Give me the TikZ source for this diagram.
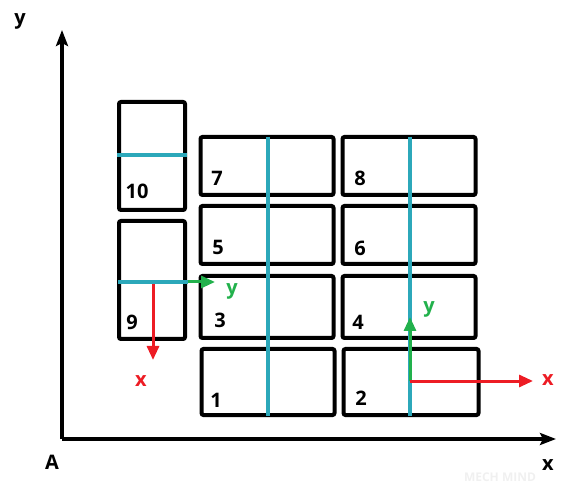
\documentclass[tikz,border=0pt]{standalone}
\usepackage{fontspec}
\setmainfont{Open Sans}
\usetikzlibrary{arrows.meta}
\definecolor{tealc}{RGB}{44,168,186}
\definecolor{redc}{RGB}{237,28,36}
\definecolor{greenc}{RGB}{34,177,76}
\tikzset{
  box/.style={draw=black, line width=4pt, rounded corners=2pt, fill=none, inner sep=0pt},
  num/.style={font=\fontsize{20}{23}\selectfont\bfseries, inner sep=0pt, anchor=base},
  axlab/.style={font=\fontsize{20}{23}\selectfont\bfseries, inner sep=0pt},
  teal/.style={draw=tealc, line width=3.5pt},
  redarr/.style={draw=redc, line width=3pt, -{Triangle[length=14pt,width=12pt]}},
  greenarr/.style={draw=greenc, line width=3pt, -{Triangle[length=14pt,width=12pt]}},
  axis/.style={draw=black, line width=3.5pt, -{Stealth[length=16pt,width=12pt,inset=3pt]}}
}
\begin{document}
\begin{tikzpicture}[x=1pt,y=-1pt]
\useasboundingbox (0,0) rectangle (582,484);
% axes
\coordinate (O) at (62,439);
\coordinate (Ytip) at (62,30);
\coordinate (Xtip) at (556,439);
\draw[axis] (O) -- (Ytip);
\draw[axis] (O) -- (Xtip);
\node[axlab] (ylab) at (20,21) {y};
\node[axlab] (alab) at (52,462) {A};
\node[axlab] (xlab) at (548,465) {x};
\node[font=\fontsize{12}{14}\selectfont\bfseries, text=black!6] (wm) at (500,477) {MECH MIND};
% boxes
\node[box, minimum width=66pt, minimum height=108pt] (b10) at (152,156) {};
\node[box, minimum width=66pt, minimum height=118pt] (b9) at (152,280) {};
\node[box, minimum width=133pt, minimum height=58pt] (b7) at (267,166) {};
\node[box, minimum width=133pt, minimum height=58pt] (b8) at (409,166) {};
\node[box, minimum width=133pt, minimum height=58pt] (b5) at (267,235) {};
\node[box, minimum width=133pt, minimum height=58pt] (b6) at (409,235) {};
\node[box, minimum width=133pt, minimum height=62pt] (b3) at (267,307) {};
\node[box, minimum width=133pt, minimum height=62pt] (b4) at (409,307) {};
\node[box, minimum width=133pt, minimum height=66pt] (b1) at (268,382) {};
\node[box, minimum width=135pt, minimum height=66pt] (b2) at (411,382) {};
% numbers
\node[num] (n10) at (137,199) {10};
\node[num] (n7) at (217,186) {7};
\node[num] (n8) at (360,186) {8};
\node[num] (n5) at (218,255) {5};
\node[num] (n6) at (360,256) {6};
\node[num] (n9) at (132,330) {9};
\node[num] (n3) at (220,328) {3};
\node[num] (n4) at (358,330) {4};
\node[num] (n1) at (216,407) {1};
\node[num] (n2) at (361,406) {2};
% teal lines
\draw[teal] (b10.west |- 0,155) -- (b10.east |- 0,155);
\coordinate (t1a) at (268,137);
\coordinate (t1b) at (268,416);
\draw[teal] (t1a) -- (t1b);
\coordinate (t2a) at (410,137);
\coordinate (t2b) at (410,416);
\draw[teal] (t2a) -- (t2b);
% frame at box 9
\coordinate (f9) at (153,282);
\coordinate (f9l) at (118,282);
\coordinate (f9m) at (188,282);
\coordinate (f9y) at (215,282);
\coordinate (f9x) at (153,360);
\draw[redarr] (f9) -- (f9x);
\draw[teal] (f9l) -- (f9m);
\draw[greenarr] (f9m) -- (f9y);
\node[axlab, text=redc] (x9) at (141,381) {x};
\node[axlab, text=greenc] (y9) at (232,291) {y};
% frame at box 2
\coordinate (f2) at (410,381);
\coordinate (f2y) at (410,317);
\coordinate (f2x) at (533,381);
\draw[greenarr] (f2) -- (f2y);
\draw[redarr] (f2) -- (f2x);
\node[axlab, text=redc] (x2) at (548,380) {x};
\node[axlab, text=greenc] (y2) at (429,309) {y};
\end{tikzpicture}
\end{document}
